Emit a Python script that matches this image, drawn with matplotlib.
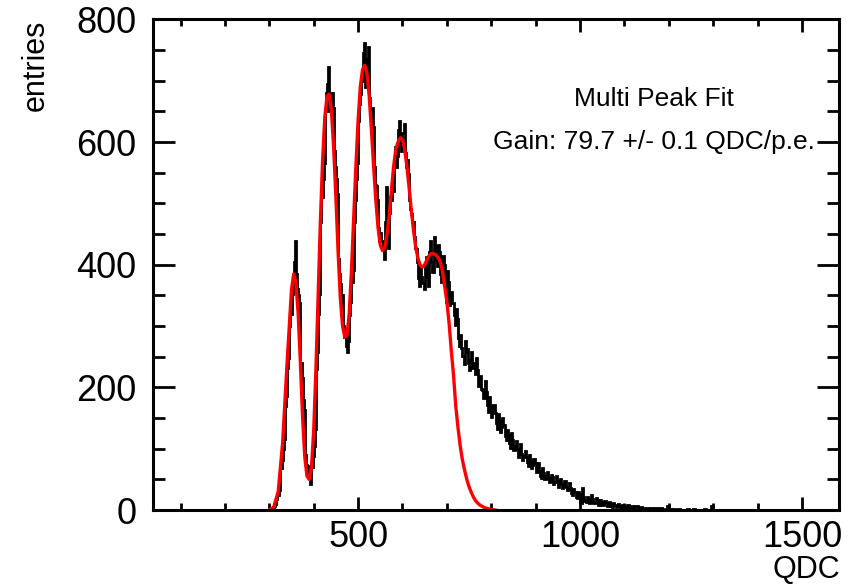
import numpy as np
import matplotlib
matplotlib.use("Agg")
import matplotlib.pyplot as plt
from matplotlib.ticker import MultipleLocator

plt.rcParams['font.family'] = ['Liberation Sans', 'DejaVu Sans']

# histogram, fine part: 2.5 QDC bins from 300 to 1100
fine_start = 300
fine_width = 2.5
counts_fine = [
    0, 0, 2, 4, 6, 10, 18, 26, 24, 32,
    68, 82, 100, 116, 170, 186, 232, 248, 300, 320,
    352, 378, 405, 438, 385, 360, 350, 338, 240, 216,
    180, 164, 90, 74, 72, 60, 52, 42, 70, 88,
    105, 132, 230, 258, 320, 352, 470, 510, 540, 565,
    650, 680, 695, 722, 650, 675, 680, 655, 585, 560,
    540, 515, 410, 385, 368, 350, 300, 282, 282, 268,
    258, 275, 318, 340, 372, 392, 470, 505, 540, 565,
    635, 662, 678, 700, 745, 762, 690, 712, 735, 755,
    672, 648, 655, 625, 560, 530, 528, 505, 460, 438,
    452, 438, 425, 410, 470, 526, 440, 428, 485, 510,
    505, 520, 570, 592, 560, 578, 620, 635, 600, 585,
    615, 630, 582, 560, 570, 548, 505, 490, 482, 470,
    445, 428, 425, 405, 378, 365, 395, 380, 370, 360,
    398, 412, 380, 365, 420, 438, 405, 388, 445, 430,
    408, 398, 432, 420, 385, 372, 415, 400, 358, 340,
    390, 372, 335, 348, 355, 338, 318, 302, 328, 312,
    280, 268, 285, 265, 252, 238, 275, 258, 262, 240,
    228, 245, 258, 232, 240, 222, 248, 228, 202, 210,
    218, 198, 195, 182, 210, 192, 172, 160, 185, 170,
    152, 160, 172, 158, 142, 132, 156, 145, 128, 135,
    150, 138, 120, 115, 130, 122, 110, 102, 126, 115,
    98, 104, 112, 100, 86, 96, 108, 92, 82, 88,
    96, 86, 78, 72, 90, 80, 68, 74, 84, 76,
    62, 70, 76, 64, 56, 52, 68, 60, 50, 55,
    62, 52, 46, 48, 58, 54, 42, 46, 55, 48,
    38, 44, 50, 42, 36, 40, 48, 38, 32, 35,
    44, 36, 28, 25, 35, 30, 22, 20, 30, 26,
    14, 12, 36, 22, 15, 13, 22, 18, 12, 14,
    24, 18, 12, 11, 20, 16, 9, 8, 17, 13,
    8, 9, 15, 11, 7, 6, 13, 10, 6, 5,
    11, 8, 5, 6, 10, 7, 4, 5, 9, 6,
]

# histogram, tail: 5 QDC bins from 1100
tail_start = 1100
tail_width = 5
counts_tail = [
    4, 8, 3, 6, 3, 6, 2, 5, 2, 4,
    3, 2, 4, 2, 3, 1, 3, 2, 1, 7,
    2, 1, 2, 0, 2, 1, 1, 0, 2, 0,
    1, 2, 0, 1, 0, 1, 2, 0, 1, 6,
    0, 1, 0, 0,
]

# multi peak fit curve
fit_x = [300, 310, 320, 330, 340, 350, 355, 360, 365, 370,
         375, 380, 385, 390, 395, 400, 405, 410, 415, 420,
         425, 430, 435, 440, 445, 450, 455, 460, 465, 470,
         475, 480, 485, 490, 495, 500, 505, 510, 515, 520,
         525, 530, 535, 540, 545, 550, 555, 560, 565, 570,
         575, 580, 585, 590, 595, 600, 605, 610, 615, 620,
         625, 630, 635, 640, 645, 650, 655, 660, 665, 670,
         675, 680, 685, 690, 695, 700, 705, 710, 715, 720,
         725, 730, 735, 740, 745, 750, 755, 760, 765, 770,
         775, 780, 785, 790, 795, 800, 805, 810]
fit_y = [0, 5, 30, 110, 240, 360, 385, 370, 320, 240,
         150, 85, 55, 50, 70, 130, 230, 350, 470, 570,
         640, 675, 678, 650, 590, 510, 420, 345, 300, 282,
         285, 320, 390, 475, 560, 635, 690, 718, 725, 712,
         675, 620, 560, 505, 460, 432, 423, 428, 448, 480,
         520, 560, 588, 600, 607, 604, 588, 560, 525, 488,
         455, 428, 410, 399, 396, 400, 408, 415, 418, 418,
         416, 412, 405, 390, 365, 340, 305, 260, 220, 170,
         135, 105, 82, 65, 50, 38, 29, 21, 15, 11,
         8, 6, 4, 3, 2, 1, 0.5, 0]

edges_fine = fine_start + fine_width * np.arange(len(counts_fine))
edges_tail = tail_start + tail_width * np.arange(len(counts_tail) + 1)
edges = np.concatenate([edges_fine, edges_tail])
counts = counts_fine + counts_tail

fig = plt.figure(figsize=(8.55, 5.85), dpi=100)
ax = fig.add_axes([0.179, 0.128, 0.802, 0.839])

ax.stairs(counts, edges, color='black', lw=2.0)
ax.plot(fit_x, fit_y, color='red', lw=2.4)

ax.set_xlim(38, 1583)
ax.set_ylim(0, 800)

ax.xaxis.set_major_locator(MultipleLocator(500))
ax.xaxis.set_minor_locator(MultipleLocator(100))
ax.yaxis.set_major_locator(MultipleLocator(200))
ax.yaxis.set_minor_locator(MultipleLocator(50))

for s in ax.spines.values():
    s.set_linewidth(2.2)

ax.tick_params(axis='both', which='both', direction='in', top=True, right=True,
               width=2.0, labelsize=26)
ax.tick_params(axis='x', which='major', length=9.5, pad=7)
ax.tick_params(axis='x', which='minor', length=4.7)
ax.tick_params(axis='y', which='major', length=16, pad=12)
ax.tick_params(axis='y', which='minor', length=8.5)

fig.text(36 / 855, 1 - 20 / 585, 'entries', rotation=90, fontsize=22,
         ha='center', va='top')
fig.text(840 / 855, 1 - 570 / 585, 'QDC', fontsize=22, ha='right', va='center')

fig.text(654 / 855, 1 - 99 / 585, 'Multi Peak Fit', fontsize=19,
         ha='center', va='center')
fig.text(654 / 855, 1 - 142 / 585, 'Gain: 79.7 +/- 0.1 QDC/p.e.', fontsize=19,
         ha='center', va='center')

fig.savefig('out.png', dpi=100)
